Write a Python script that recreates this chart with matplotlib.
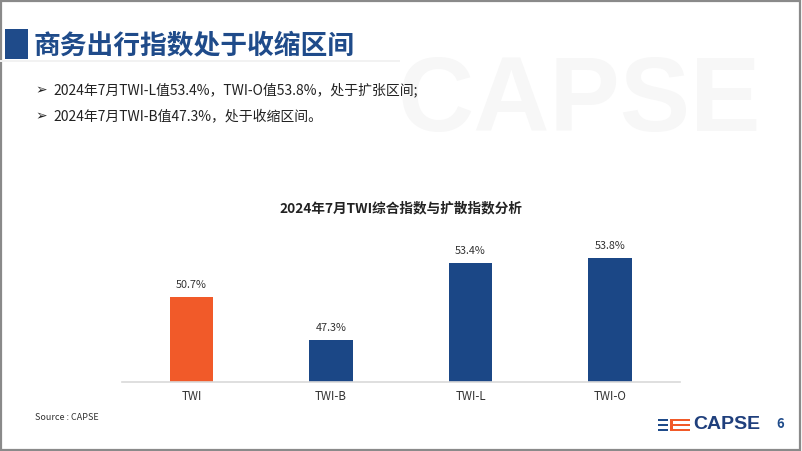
"""商务出行指数 slide: 2024年7月 TWI composite vs diffusion indices."""

import matplotlib

matplotlib.use("Agg")
import matplotlib.pyplot as plt
from matplotlib.patches import Rectangle

plt.rcParams["font.family"] = ["Noto Sans CJK SC", "DejaVu Sans"]

# data
categories = ["TWI", "TWI-B", "TWI-L", "TWI-O"]
values = [50.7, 47.3, 53.4, 53.8]
value_labels = [f"{v:.1f}%" for v in values]

slide_title = "商务出行指数处于收缩区间"
bullets = [
    "2024年7月TWI-L值53.4%，TWI-O值53.8%，处于扩张区间;",
    "2024年7月TWI-B值47.3%，处于收缩区间。",
]
chart_title = "2024年7月TWI综合指数与扩散指数分析"
source_text = "Source : CAPSE"
page_no = "6"

W, H = 802, 451
BLUE = "#1b4786"
ORANGE = "#f15a29"
bar_colors = [ORANGE, BLUE, BLUE, BLUE]


def fx(x):
    return x / W


def fy(y):
    return 1 - y / H


fig = plt.figure(figsize=(W / 100, H / 100), dpi=100)

# slide frame
fig.patches.append(Rectangle((0.001, 0.002), 0.997, 0.996, transform=fig.transFigure,
                             fill=False, edgecolor="#8a8a8a", linewidth=1.6))

# watermark
fig.text(fx(398), fy(104), "CAPSE", fontsize=76, fontweight="bold", color="#f7f7f7",
         family="Liberation Sans", ha="left", va="center", zorder=0)

# header
fig.patches.append(Rectangle((fx(5), fy(59)), fx(28) - fx(5), fy(29) - fy(59),
                             transform=fig.transFigure, facecolor="#1f4b8a", edgecolor="none"))
fig.patches.append(Rectangle((0, fy(62)), fx(400), fy(59.5) - fy(62),
                             transform=fig.transFigure, facecolor="#f2f2f2", edgecolor="none"))
fig.text(fx(34), fy(45), slide_title, fontsize=19.3, fontweight="bold", color="#1f4b8a",
         ha="left", va="center")

for i, line in enumerate(bullets):
    y = 90 + i * 26.5
    fig.text(fx(35), fy(y), "➢", fontsize=10, family="DejaVu Sans", color="#222222",
             ha="left", va="center")
    fig.text(fx(53), fy(y), line, fontsize=10, color="#222222", ha="left", va="center")

# chart
ax = fig.add_axes([fx(121.7), fy(381.5), fx(680) - fx(121.7), 151.4 / H])
x = list(range(len(categories)))
bars = ax.bar(x, values, width=0.312, color=bar_colors, bottom=0, zorder=2)
ax.set_xlim(-0.5, 3.5)
ax.set_ylim(44, 56)
for b, lab in zip(bars, value_labels):
    ax.annotate(lab, (b.get_x() + b.get_width() / 2, b.get_height()),
                xytext=(0, 8.5), textcoords="offset points", ha="center", va="center",
                fontsize=7.8, color="#333333")
ax.set_xticks(x)
ax.set_xticklabels(categories, fontsize=8.3, color="#333333")
ax.tick_params(axis="x", length=0, pad=6)
ax.set_yticks([])
for s in ("left", "right", "top"):
    ax.spines[s].set_visible(False)
ax.spines["bottom"].set_color("#d9d9d9")
ax.spines["bottom"].set_linewidth(1.2)
ax.patch.set_alpha(0)

fig.text(fx(401), fy(208.5), chart_title, fontsize=9.8, fontweight="bold", color="#222222",
         ha="center", va="center")

fig.text(fx(35), fy(417), source_text, fontsize=6.5, color="#333333", ha="left", va="center")

# footer logo
for k in range(3):
    yy = 418.5 + k * 5.2
    fig.patches.append(Rectangle((fx(658), fy(yy + 2.2)), fx(10), 2.2 / H,
                                 transform=fig.transFigure, facecolor="#1f4b8a", edgecolor="none"))
    fig.patches.append(Rectangle((fx(670), fy(yy + 2.2)), fx(20), 2.2 / H,
                                 transform=fig.transFigure, facecolor=ORANGE, edgecolor="none"))
fig.patches.append(Rectangle((fx(670), fy(431)), fx(2.5), 12.5 / H,
                             transform=fig.transFigure, facecolor=ORANGE, edgecolor="none"))
fig.text(fx(693), fy(424.5), "CAPSE", fontsize=14, fontweight="bold", color="#1f3f7c",
         family="Liberation Sans", ha="left", va="center")
fig.text(fx(780), fy(424.5), page_no, fontsize=9.5, fontweight="bold", color="#1f4b8a",
         ha="center", va="center")

fig.savefig("out.png", dpi=100)
